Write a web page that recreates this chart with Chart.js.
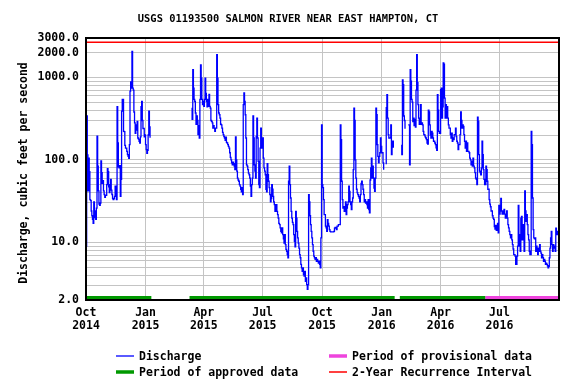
<!DOCTYPE html>
<html>
<head>
<meta charset="utf-8">
<script src="https://cdn.jsdelivr.net/npm/chart.js@4.4.1/dist/chart.umd.min.js"></script>
<style>
  html, body { margin: 0; padding: 0; background: #fff; }
  #wrap { width: 576px; height: 384px; }
</style>
</head>
<body>
<div id="wrap"><canvas id="flowChart" width="576" height="384"></canvas></div>
<script>
// Daily discharge (cfs), day 0 = 1 Oct 2014. Each run of data starts at its own day.
const flow1Start = 0;
const flow1 = [
  9, 340, 115, 42, 105, 72, 33, 32, 24, 21,
  19, 17, 31, 20, 24, 19, 26, 194, 84, 42,
  29, 28, 30, 97, 70, 52, 56, 42, 38, 35,
  37, 37, 50, 78, 72, 47, 40, 50, 58, 43,
  38, 34, 33, 34, 36, 48, 40, 33, 440, 160,
  82, 80, 85, 36, 58, 390, 540, 540, 222, 220,
  150, 139, 139, 127, 116, 110, 104, 153, 680, 880,
  740, 2066, 740, 700, 380, 280, 210, 265, 230, 292,
  184, 178, 168, 160, 190, 440, 510, 300, 240, 240,
  190, 200, 153, 133, 120, 130, 200, 390, 250, 185
];

const flow2Start = 163;
const flow2 = [
  420, 310, 1240, 740, 540, 510, 370, 270, 340, 300,
  202, 260, 184, 540, 1420, 980, 540, 466, 511, 445,
  540, 980, 640, 511, 440, 540, 445, 620, 445, 424,
  300, 292, 280, 243, 260, 243, 221, 243, 243, 1883,
  980, 466, 370, 352, 321, 270, 266, 243, 215, 202,
  192, 184, 172, 188, 163, 160, 153, 146, 139, 122,
  107, 100, 92, 87, 94, 90, 84, 76, 190, 100,
  73, 60, 57, 55, 50, 48, 44, 41, 46, 38,
  466, 646, 511, 352, 184, 87, 84, 76, 69, 66,
  60, 48, 36, 50, 60, 340, 184, 87, 73, 60,
  192, 321, 184, 96, 50, 46, 139, 243, 184, 139,
  184, 105, 80, 73, 66, 44, 41, 90, 66, 55,
  46, 38, 31, 34, 50, 44, 36, 31, 28.6, 23.8,
  27, 28.6, 23.8, 21.7, 19.7, 17, 16.4, 15, 13.6, 13,
  15, 12.4, 11, 9.8, 12.4, 9.4, 8.2, 7.8, 7.1, 6.5,
  55, 84, 50, 34.5, 23.8, 19.7, 17.5, 16.4, 12.4, 10.3,
  8.8, 23.8, 19.7, 13.6, 11.3, 9.8, 8.5, 7.1, 6.5, 5.4,
  4.9, 4.45, 4.9, 4.06, 3.9, 4.45, 3.37, 3.7, 3.07, 2.7,
  3.07, 37.8, 31, 21, 16.4, 13.6, 11.3, 9.4, 7.8, 6.8,
  6.5, 6.2, 6.5, 5.9, 6.2, 5.9, 5.6, 5.9, 5.4, 4.9,
  11.3, 266, 50, 46, 33, 21.7, 21.7, 15.7, 15, 13.6,
  18.8, 17, 15.7, 14.3, 13.6, 13.4, 13.4, 13.4, 13.4, 13.4,
  13.6, 14.9, 15.2, 14.9, 14.3, 15.7, 15.7, 16.4, 16.4, 16.4,
  266, 176, 55, 33, 26, 27, 23.8, 25.5, 31, 21.7,
  26, 28.6, 31, 48, 41.5, 31, 28.6, 25, 31, 34.5,
  76, 424, 300, 100, 60, 44, 40, 37.8, 36, 34.5,
  31, 37.8, 52, 55, 50, 44, 37.8, 31, 33, 30,
  31, 28.6, 26, 33, 25, 22.7, 57, 80, 105, 60,
  84, 60, 45.6, 41.5, 60, 424, 352, 153, 110, 92,
  110, 122, 184, 146, 122, 122, 92, 76
];

const flow3Start = 463;
const flow3 = [90, 430, 616, 321, 202, 184, 184, 184, 266, 116, 168, 168, 140];

const flow4Start = 487;
const flow4 = [150, 116, 930, 814, 340, 300, 243, 243];

const flow5Start = 498;
const flow5 = [
  266, 266, 87, 1240, 900, 540, 500, 290, 320, 260,
  310, 250, 700, 1883, 860, 466, 320, 270, 320, 466,
  270, 280, 266, 222, 202, 200, 190, 184, 176, 160,
  155, 400, 380, 266, 200, 184, 222, 210, 184, 168,
  168, 160, 153, 140, 130, 616, 400, 221, 210, 210,
  710, 740, 321, 440, 1500, 1450, 560, 321, 466, 321,
  440, 321, 266, 243, 243, 202, 184, 210, 168, 184,
  176, 202, 202, 243, 192, 168, 160, 133, 153, 153,
  202, 380, 300, 243, 266, 255, 202, 168, 139, 168,
  127, 160, 127, 127, 122, 105, 100, 87, 96, 84,
  105, 84, 80, 70, 60, 58, 50, 330, 292, 116,
  73, 70, 66, 80, 168, 116, 76, 58, 50, 50,
  84, 76, 55, 44, 44, 33, 29, 27, 24, 24,
  21, 19.7, 19, 15.5, 14.5, 16, 14, 14.5, 17, 13,
  28, 22, 27, 34, 24, 22, 24, 22, 25, 22,
  19.7, 19.7, 24, 19.7, 16.4, 15, 13.6, 12.4, 11.3, 12.4,
  10.7, 9.4, 8.3, 7.1, 7.1, 6.8, 5.4, 5.4, 6.8, 9,
  28, 12.4, 9, 7.8, 19.7, 20.7, 10.7, 16.4, 11.3, 7.8,
  42, 24, 18, 21.7, 16.4, 12.4, 10.7, 7.8, 7.1, 7.1,
  221, 153, 34.5, 14.3, 11.3, 11, 11.3, 7.8, 9, 8.5,
  7.1, 8.5, 7.8, 9.4, 7.8, 7.4, 6.5, 7.1, 6.5, 5.9,
  6.2, 5.9, 5.4, 5.6, 5.4, 5.2, 4.9, 5.1, 6.5, 8.5,
  11.3, 13.6, 9.4, 7.8, 9.4, 8.5, 9, 7.8, 14.9, 12.4,
  12.4, 13.6, 13.6
];

// 2-year recurrence interval flow (cfs)
const recurrence2yr = 2670;

// approval periods (day ranges)
const approvedStart = [0, 160, 485];
const approvedEnd = [101, 477, 617];
const provisionalStart = [617];
const provisionalEnd = [731];

// axes
const dayMin = 0;
const dayMax = 731;
const tickDays = [0, 92, 182, 273, 365, 457, 548, 639];
const tickMonths = ['Oct', 'Jan', 'Apr', 'Jul', 'Oct', 'Jan', 'Apr', 'Jul'];
const tickYears = ['2014', '2015', '2015', '2015', '2015', '2016', '2016', '2016'];
const yMin = 2;
const yMax = 3000;
const yGridValues = [2, 3, 4, 5, 6, 7, 8, 9, 10, 20, 30, 40, 50, 60, 70, 80, 90,
  100, 200, 300, 400, 500, 600, 700, 800, 900, 1000, 2000, 3000];
const yLabelValues = [2, 10, 100, 1000, 2000, 3000];

const chartTitle = 'USGS 01193500 SALMON RIVER NEAR EAST HAMPTON, CT';
const yTitle = 'Discharge, cubic feet per second';

const FONT = '"DejaVu Sans Mono", "Liberation Mono", monospace';

// build point lists, a null after each run breaks the line
function buildDischarge() {
  const runs = [[flow1Start, flow1], [flow2Start, flow2], [flow3Start, flow3],
                [flow4Start, flow4], [flow5Start, flow5]];
  const pts = [];
  runs.forEach(([start, vals]) => {
    vals.forEach((v, i) => pts.push({ x: start + i, y: v }));
    pts.push({ x: start + vals.length, y: null });
  });
  return pts;
}

function buildPeriods(starts, ends) {
  const pts = [];
  starts.forEach((s, i) => {
    pts.push({ x: s, y: yMin });
    pts.push({ x: ends[i], y: yMin });
    pts.push({ x: ends[i], y: null });
  });
  return pts;
}

// frame, titles and legend
const decorPlugin = {
  id: 'decor',
  afterDraw(chart) {
    const { ctx, chartArea: a } = chart;
    ctx.save();
    ctx.strokeStyle = '#000';
    ctx.lineWidth = 2;
    ctx.strokeRect(a.left, a.top, a.right - a.left, a.bottom - a.top);

    ctx.fillStyle = '#000';
    ctx.font = 'bold 10.4px ' + FONT;
    ctx.textAlign = 'center';
    ctx.textBaseline = 'middle';
    ctx.fillText(chartTitle, 288, 19);

    ctx.save();
    ctx.translate(24, 173);
    ctx.rotate(-Math.PI / 2);
    ctx.font = 'bold 11.5px ' + FONT;
    ctx.fillText(yTitle, 0, 0);
    ctx.restore();

    const items = [
      { text: 'Discharge', color: '#0000ff', w: 1.3, x: 116, y: 356 },
      { text: 'Period of approved data', color: '#009900', w: 3.5, x: 116, y: 372 },
      { text: 'Period of provisional data', color: '#ee44dd', w: 3.5, x: 329, y: 356 },
      { text: '2-Year Recurrence Interval', color: '#ff0000', w: 1.5, x: 329, y: 372 }
    ];
    ctx.font = 'bold 11.5px ' + FONT;
    ctx.textAlign = 'left';
    items.forEach(it => {
      ctx.beginPath();
      ctx.strokeStyle = it.color;
      ctx.lineWidth = it.w;
      ctx.moveTo(it.x, it.y);
      ctx.lineTo(it.x + 18, it.y);
      ctx.stroke();
      ctx.fillStyle = '#000';
      ctx.fillText(it.text, it.x + 23, it.y + 1);
    });
    ctx.restore();
  }
};

document.addEventListener('DOMContentLoaded', function() {
  const ctx = document.getElementById('flowChart').getContext('2d');
  new Chart(ctx, {
    type: 'line',
    data: {
      datasets: [{
        label: 'Discharge',
        data: buildDischarge(),
        borderColor: '#0000ff',
        borderWidth: 1.3,
        pointRadius: 0,
        stepped: true,
        spanGaps: false
      }, {
        label: '2-Year Recurrence Interval',
        data: [{ x: dayMin, y: recurrence2yr }, { x: dayMax, y: recurrence2yr }],
        borderColor: '#ff0000',
        borderWidth: 1.5,
        pointRadius: 0
      }, {
        label: 'Period of approved data',
        data: buildPeriods(approvedStart, approvedEnd),
        borderColor: '#009900',
        borderWidth: 8,
        pointRadius: 0,
        spanGaps: false,
        clip: 0
      }, {
        label: 'Period of provisional data',
        data: buildPeriods(provisionalStart, provisionalEnd),
        borderColor: '#ee44dd',
        borderWidth: 8,
        pointRadius: 0,
        spanGaps: false,
        clip: 0
      }]
    },
    options: {
      responsive: false,
      animation: false,
      layout: { padding: { top: 38, right: 17, bottom: 54, left: 0 } },
      scales: {
        x: {
          type: 'linear',
          min: dayMin,
          max: dayMax,
          afterBuildTicks: scale => { scale.ticks = tickDays.map(v => ({ value: v })); },
          afterFit: scale => { scale.height = 30; },
          grid: { color: '#c4c4c4', lineWidth: 1, drawTicks: false },
          border: { display: false },
          ticks: {
            autoSkip: false,
            maxRotation: 0,
            padding: 7,
            color: '#000',
            font: { family: FONT, size: 11.5, weight: 'bold', lineHeight: 1.1 },
            callback: function(value, index) {
              return [tickMonths[index], tickYears[index]];
            }
          }
        },
        y: {
          type: 'logarithmic',
          min: yMin,
          max: yMax,
          afterBuildTicks: scale => { scale.ticks = yGridValues.map(v => ({ value: v })); },
          afterFit: scale => { scale.width = 86; },
          grid: { color: '#c4c4c4', lineWidth: 1, drawTicks: false },
          border: { display: false },
          ticks: {
            autoSkip: false,
            padding: 7,
            color: '#000',
            font: { family: FONT, size: 11.5, weight: 'bold' },
            callback: function(value) {
              return yLabelValues.includes(value) ? value.toFixed(1) : '';
            }
          }
        }
      },
      plugins: {
        legend: { display: false },
        tooltip: { enabled: false },
        title: { display: false }
      }
    },
    plugins: [decorPlugin]
  });
});
</script>
</body>
</html>
